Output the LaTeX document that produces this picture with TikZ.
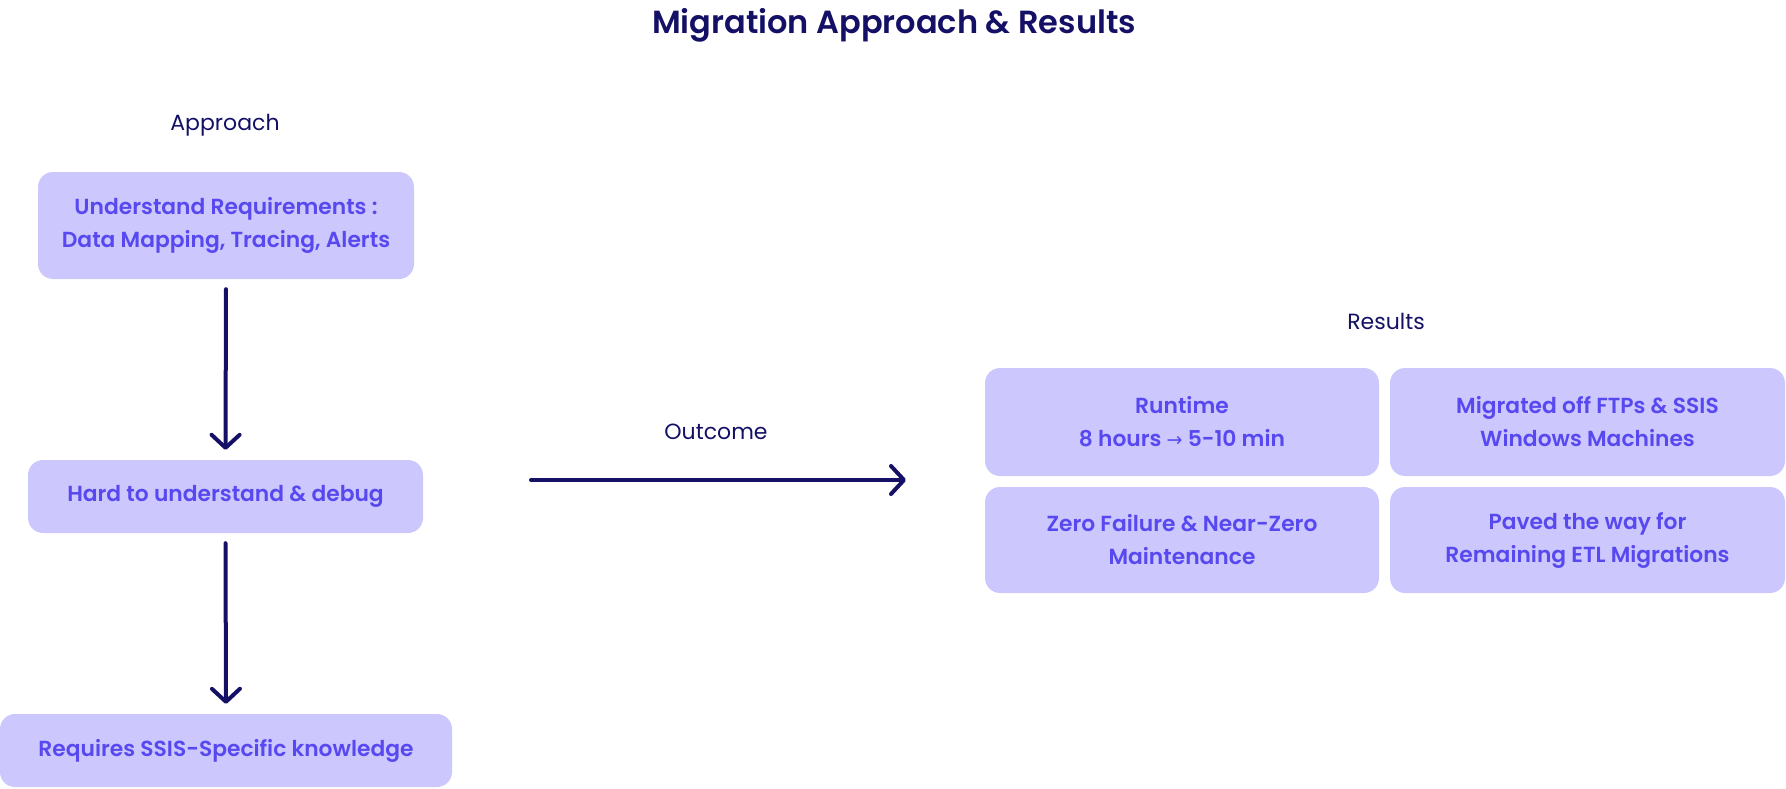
\documentclass[tikz,border=0pt]{standalone}
\usepackage{fontspec}
\setmainfont{Poppins}[BoldFont={Poppins SemiBold}]
\newfontfamily\dejavu{DejaVu Sans}
\usetikzlibrary{arrows.meta}
\definecolor{boxfill}{RGB}{204,200,253}
\definecolor{boxtext}{RGB}{88,72,240}
\definecolor{navy}{RGB}{20,16,102}
\tikzset{
  card/.style={fill=boxfill, rounded corners=15pt, inner sep=0pt, align=center,
    text=boxtext, font=\fontsize{21.8}{33}\selectfont\bfseries},
  lbl/.style={text=navy, font=\fontsize{22}{24}\selectfont, inner sep=0pt},
  flow/.style={draw=navy, line width=4pt, line cap=round,
    -{Straight Barb[length=13pt,width=28pt,line width=4pt,round]}},
}
\begin{document}
\begin{tikzpicture}[x=1pt,y=1pt]
\useasboundingbox (0,0) rectangle (1786,-788);
\node[text=navy, font=\fontsize{32}{36}\selectfont\bfseries, inner sep=0pt] (title) at (894,-25) {Migration Approach \& Results};
\node[lbl] (appr) at (225,-125) {Approach};
\node[card, minimum width=376pt, minimum height=107pt] (b1) at (226,-225.5) {Understand Requirements :\\Data Mapping, Tracing, Alerts};
\node[card, minimum width=395pt, minimum height=73pt] (b2) at (225.5,-496.5) {Hard to understand \& debug};
\node[card, minimum width=452pt, minimum height=73pt] (b3) at (226,-750.5) {Requires SSIS-Specific knowledge};
\draw[flow, shorten <=10pt, shorten >=10pt] (b1.south) -- (b2.north);
\draw[flow, shorten <=10pt, shorten >=10pt] (b2.south) -- (b3.north);
\coordinate (o1) at (531,-480);
\coordinate (o2) at (906,-480);
\draw[flow] (o1) -- (o2);
\node[lbl] (outc) at (716,-432) {Outcome};
\node[lbl] (res) at (1386,-321) {Results};
\node[card, minimum width=394pt, minimum height=108pt] (r1) at (1182,-422) {Runtime\\8 hours {\dejavu\fontsize{19}{19}\selectfont\mdseries →} 5-10 min};
\node[card, minimum width=395pt, minimum height=108pt] (r2) at (1587.5,-422) {Migrated off FTPs \& SSIS\\Windows Machines};
\node[card, minimum width=394pt, minimum height=106pt] (r3) at (1182,-540) {Zero Failure \& Near-Zero\\Maintenance};
\node[card, minimum width=395pt, minimum height=106pt] (r4) at (1587.5,-540) {Paved the way for\\Remaining ETL Migrations};
\end{tikzpicture}
\end{document}
